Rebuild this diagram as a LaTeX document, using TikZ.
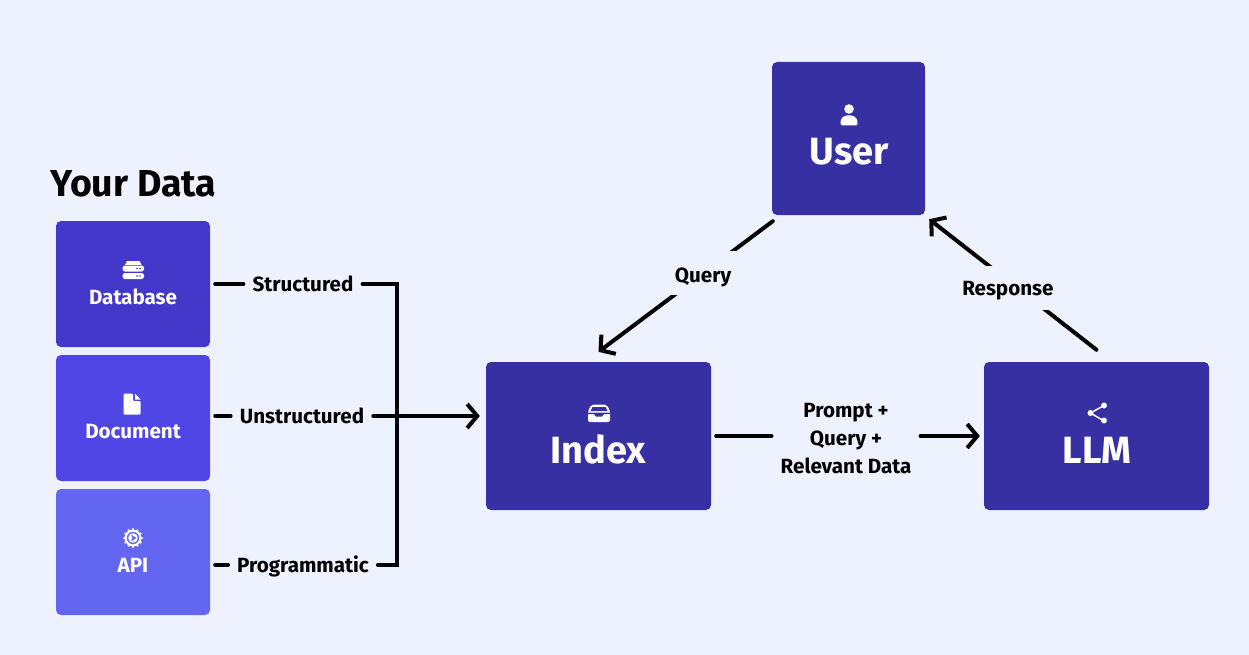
\documentclass[tikz,border=0pt]{standalone}
\usepackage{fontspec}
\setmainfont{Fira Sans}
\usetikzlibrary{arrows.meta}
\definecolor{pagebg}{HTML}{EEF2FF}
\definecolor{databasecol}{HTML}{4338CA}
\definecolor{documentcol}{HTML}{4F46E5}
\definecolor{apicol}{HTML}{6366F1}
\definecolor{maincol}{HTML}{3730A3}

\begin{document}
\begin{tikzpicture}[x=1pt,y=-1pt]
    \tikzstyle{box}=[text=white, rounded corners=5pt, inner sep=0pt, font=\bfseries]
    \tikzstyle{srcbox}=[box, minimum width=154pt, minimum height=126pt, text depth=0pt]
    \tikzstyle{srclabel}=[font=\fontsize{20.6}{20.6}\bfseries\selectfont, text=white, text height=14pt, text depth=0pt, inner sep=0pt]
    \tikzstyle{biglabel}=[font=\fontsize{38}{38}\bfseries\selectfont, text=white]
    \tikzstyle{lbl}=[font=\fontsize{20.6}{28}\bfseries\selectfont, align=center, inner ysep=0pt, inner xsep=9pt]
    \tikzstyle{sidelbl}=[lbl, text height=14pt, text depth=0pt]
    \tikzstyle{gaplbl}=[lbl, fill=pagebg, minimum height=44pt, text depth=0pt]
    \tikzstyle{link}=[line width=4pt, line cap=round, line join=miter]
    \tikzstyle{arrow}=[link, -{Straight Barb[length=10pt,width=24pt,line width=4pt]}]
    \tikzstyle{icon}=[fill=white, draw=none]

    \fill[pagebg] (0,0) rectangle (1249,655);
    \useasboundingbox (0,0) rectangle (1249,655);

    \node[font=\fontsize{37.5}{37.5}\bfseries\selectfont, anchor=west, inner sep=0pt] (title) at (50,184) {Your Data};

    % data sources
    \node[srcbox, fill=databasecol] (database) at (133,284) {};
    \node[srcbox, fill=documentcol] (document) at (133,418) {};
    \node[srcbox, fill=apicol] (api) at (133,552) {};
    \node[srclabel] (databasetext) at (133,297) {Database};
    \node[srclabel] (documenttext) at (133,431) {Document};
    \node[srclabel] (apitext) at (133,565) {API};

    % main boxes
    \node[box, fill=maincol, minimum width=153pt, minimum height=153pt] (user) at (848.5,138.5) {};
    \node[box, fill=maincol, minimum width=225pt, minimum height=148pt] (index) at (598.5,436) {};
    \node[box, fill=maincol, minimum width=225pt, minimum height=148pt] (llm) at (1096.5,436) {};
    \node[biglabel] (usertext) at (849,152) {User};
    \node[biglabel] (indextext) at (598.5,449.5) {Index};
    \node[biglabel] (llmtext) at (1097,450) {LLM};

    % icons
    \fill[icon, rounded corners=2.5pt] (122.5,265.5) rectangle (144,271.5);
    \fill[icon, rounded corners=2.5pt] (122.5,273) rectangle (144,279);
    \fill[icon] (125,264.8) -- (127,261) -- (139.5,261) -- (141.5,264.8) -- cycle;
    \fill[databasecol] (137,268.5) circle (0.8) (140,268.5) circle (0.8) (137,276) circle (0.8) (140,276) circle (0.8);

    \fill[icon, rounded corners=1pt] (123.5,393.5) -- (133,393.5) -- (133,401) -- (140.5,401) -- (140.5,414.5) -- (123.5,414.5) -- cycle;
    \fill[icon] (135,393.5) -- (140.5,399.5) -- (135,399.5) -- cycle;

    \fill[icon, even odd rule] (133,538) circle (8.5) (133,538) circle (6.3);
    \foreach \a in {0,30,...,330}
        \fill[icon] (133,538) ++(\a:9) circle (1.1);
    \fill[icon] (133,538) circle (4.8);
    \fill[apicol] (131,534.5) -- (136.5,538) -- (131,541.5) -- (132.5,538) -- cycle;

    \fill[icon] (849,109) circle (4.8);
    \fill[icon, rounded corners=1.5pt] (840.5,125.5) -- (840.5,122) .. controls (842,113.5) and (856,113.5) .. (857.5,122) -- (857.5,125.5) -- cycle;

    \fill[icon, rounded corners=2pt] (588,411) -- (591.5,404.5) -- (606.5,404.5) -- (610,411) -- (610,422) -- (588,422) -- cycle;
    \fill[maincol] (590.5,411) -- (592.5,407) -- (605.5,407) -- (607.5,411) -- cycle;
    \fill[maincol] (588,414) -- (594,414) -- (596,416.5) -- (602,416.5) -- (604,414) -- (610,414) -- (610,412.5) -- (588,412.5) -- cycle;

    \draw[white, line width=1.5pt] (1104,405.5) -- (1090.5,413) -- (1104,421);
    \fill[icon] (1104,405.5) circle (3) (1090.5,413) circle (3) (1104,420.5) circle (3);

    % labels on the left
    \node[sidelbl] (structured) at (303,284) {Structured};
    \node[sidelbl] (unstructured) at (302,416) {Unstructured};
    \node[sidelbl] (programmatic) at (303,565) {Programmatic};
    \coordinate (bustop) at (397,284);
    \coordinate (busbottom) at (397,565);

    \draw[link, shorten <=5pt] (database.east |- structured) -- (structured.west);
    \draw[link, shorten <=5pt] (document.east |- unstructured) -- (unstructured.west);
    \draw[link, shorten <=5pt] (api.east |- programmatic) -- (programmatic.west);
    \draw[link] (structured.east) -- (bustop) -- (busbottom) -- (programmatic.east);
    \draw[arrow, shorten >=6pt] (unstructured.east) -- (index.west |- unstructured);

    % links between main boxes
    \node[lbl] (prompt) at (846,438.5) {Prompt +\\Query +\\Relevant Data};
    \draw[link, shorten <=5pt] (index.east) -- (prompt.west |- index.east);
    \draw[arrow, shorten >=4pt] (prompt.east |- llm.west) -- (llm.west);

    \draw[arrow] ([shift={(1pt,-6pt)}]user.south west) -- node[gaplbl, text height=19pt, pos=.4] (query) {Query} ([yshift=10pt]index.north);
    \draw[arrow] ([yshift=12pt]llm.north) -- node[gaplbl, text height=15pt, pos=.47, xshift=-10pt] (response) {Response} ([shift={(4pt,-4pt)}]user.south east);
\end{tikzpicture}
\end{document}
